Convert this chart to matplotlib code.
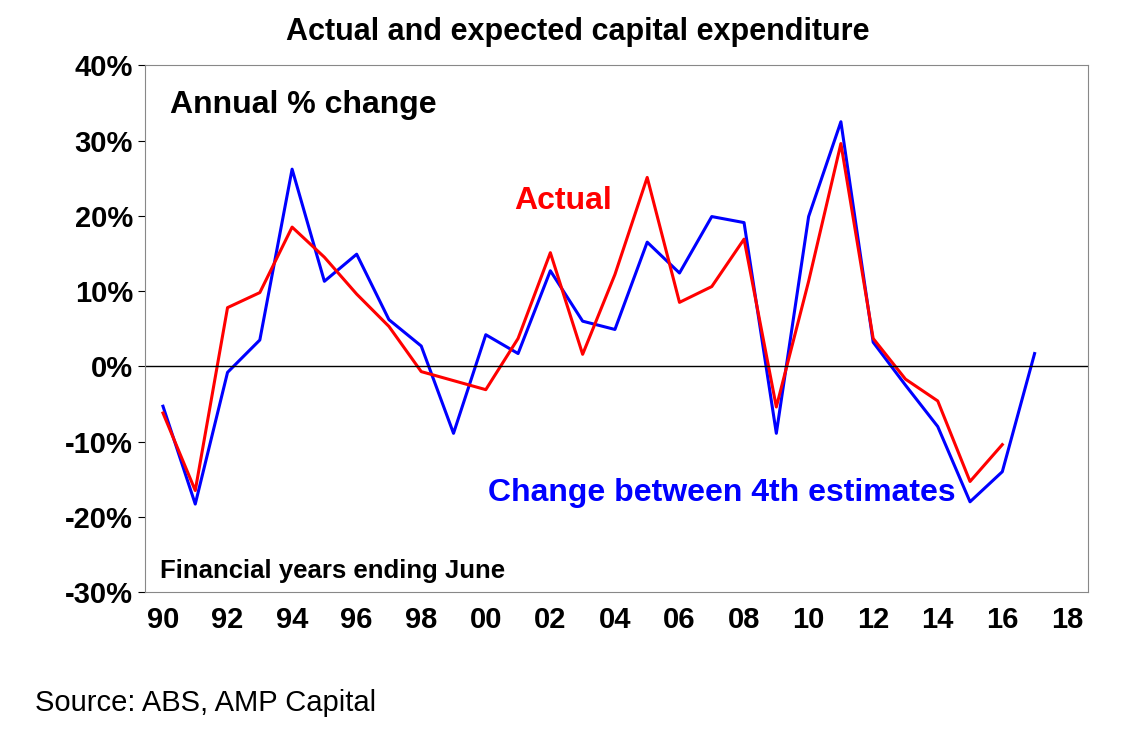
import matplotlib
matplotlib.use("Agg")
import matplotlib.pyplot as plt

years_blue = list(range(1990, 2018))
blue = [-5.3, -18.3, -0.8, 3.5, 26.2, 11.3, 14.9, 6.2, 2.7, -8.9, 4.2, 1.7, 12.7, 6.0, 4.9,
        16.5, 12.4, 19.9, 19.1, -8.9, 19.9, 32.5, 3.2, -2.5, -8.0, -18.0, -14.0, 1.7]
years_red = list(range(1990, 2017))
red = [-6.2, -16.5, 7.8, 9.8, 18.5, 14.5, 9.6, 5.3, -0.7, -1.9, -3.1, 3.7, 15.1, 1.6, 12.2,
       25.1, 8.5, 10.6, 16.9, -5.4, 11.3, 29.6, 3.7, -1.7, -4.6, -15.3, -10.4]
xticks = list(range(1990, 2019, 2))
xlabels = [f"{y % 100:02d}" for y in xticks]

plt.rcParams['font.family'] = ['Liberation Sans', 'DejaVu Sans']
fig = plt.figure(figsize=(11.32, 7.42), dpi=100)
ax = fig.add_axes([0.128, 0.202, 0.833, 0.71])
ax.plot(years_blue, blue, color='#0000FF', lw=2.2)
ax.plot(years_red, red, color='#FF0000', lw=2.2)
ax.axhline(0, color='black', lw=1)
ax.set_xlim(1989.44, 2018.65)
ax.set_ylim(-30, 40)
ax.set_yticks(range(-30, 41, 10))
ax.set_yticklabels([f"{v}%" for v in range(-30, 41, 10)], fontsize=21, fontweight='bold')
ax.set_xticks(xticks)
ax.set_xticklabels(xlabels, fontsize=21, fontweight='bold')
ax.tick_params(axis='x', length=0, pad=10)
ax.tick_params(axis='y', length=5, direction='out')
for s in ax.spines.values():
    s.set_color('#888888'); s.set_linewidth(0.8)
fig.text(0.51, 0.957, "Actual and expected capital expenditure", fontsize=22, fontweight='bold', ha='center', va='center')
ax.text(0.027, 0.925, "Annual % change", transform=ax.transAxes, fontsize=23, fontweight='bold', va='center')
ax.text(2002.4, 22, "Actual", color='#FF0000', fontsize=23, fontweight='bold', va='center', ha='center')
ax.text(2007.3, -16.8, "Change between 4th estimates", color='#0000FF', fontsize=23, fontweight='bold', va='center', ha='center')
ax.text(0.016, 0.04, "Financial years ending June", transform=ax.transAxes, fontsize=18.5, fontweight='bold', va='center')
fig.text(0.031, 0.053, "Source: ABS, AMP Capital", fontsize=21, va='center')
fig.savefig("out.png", dpi=100)
